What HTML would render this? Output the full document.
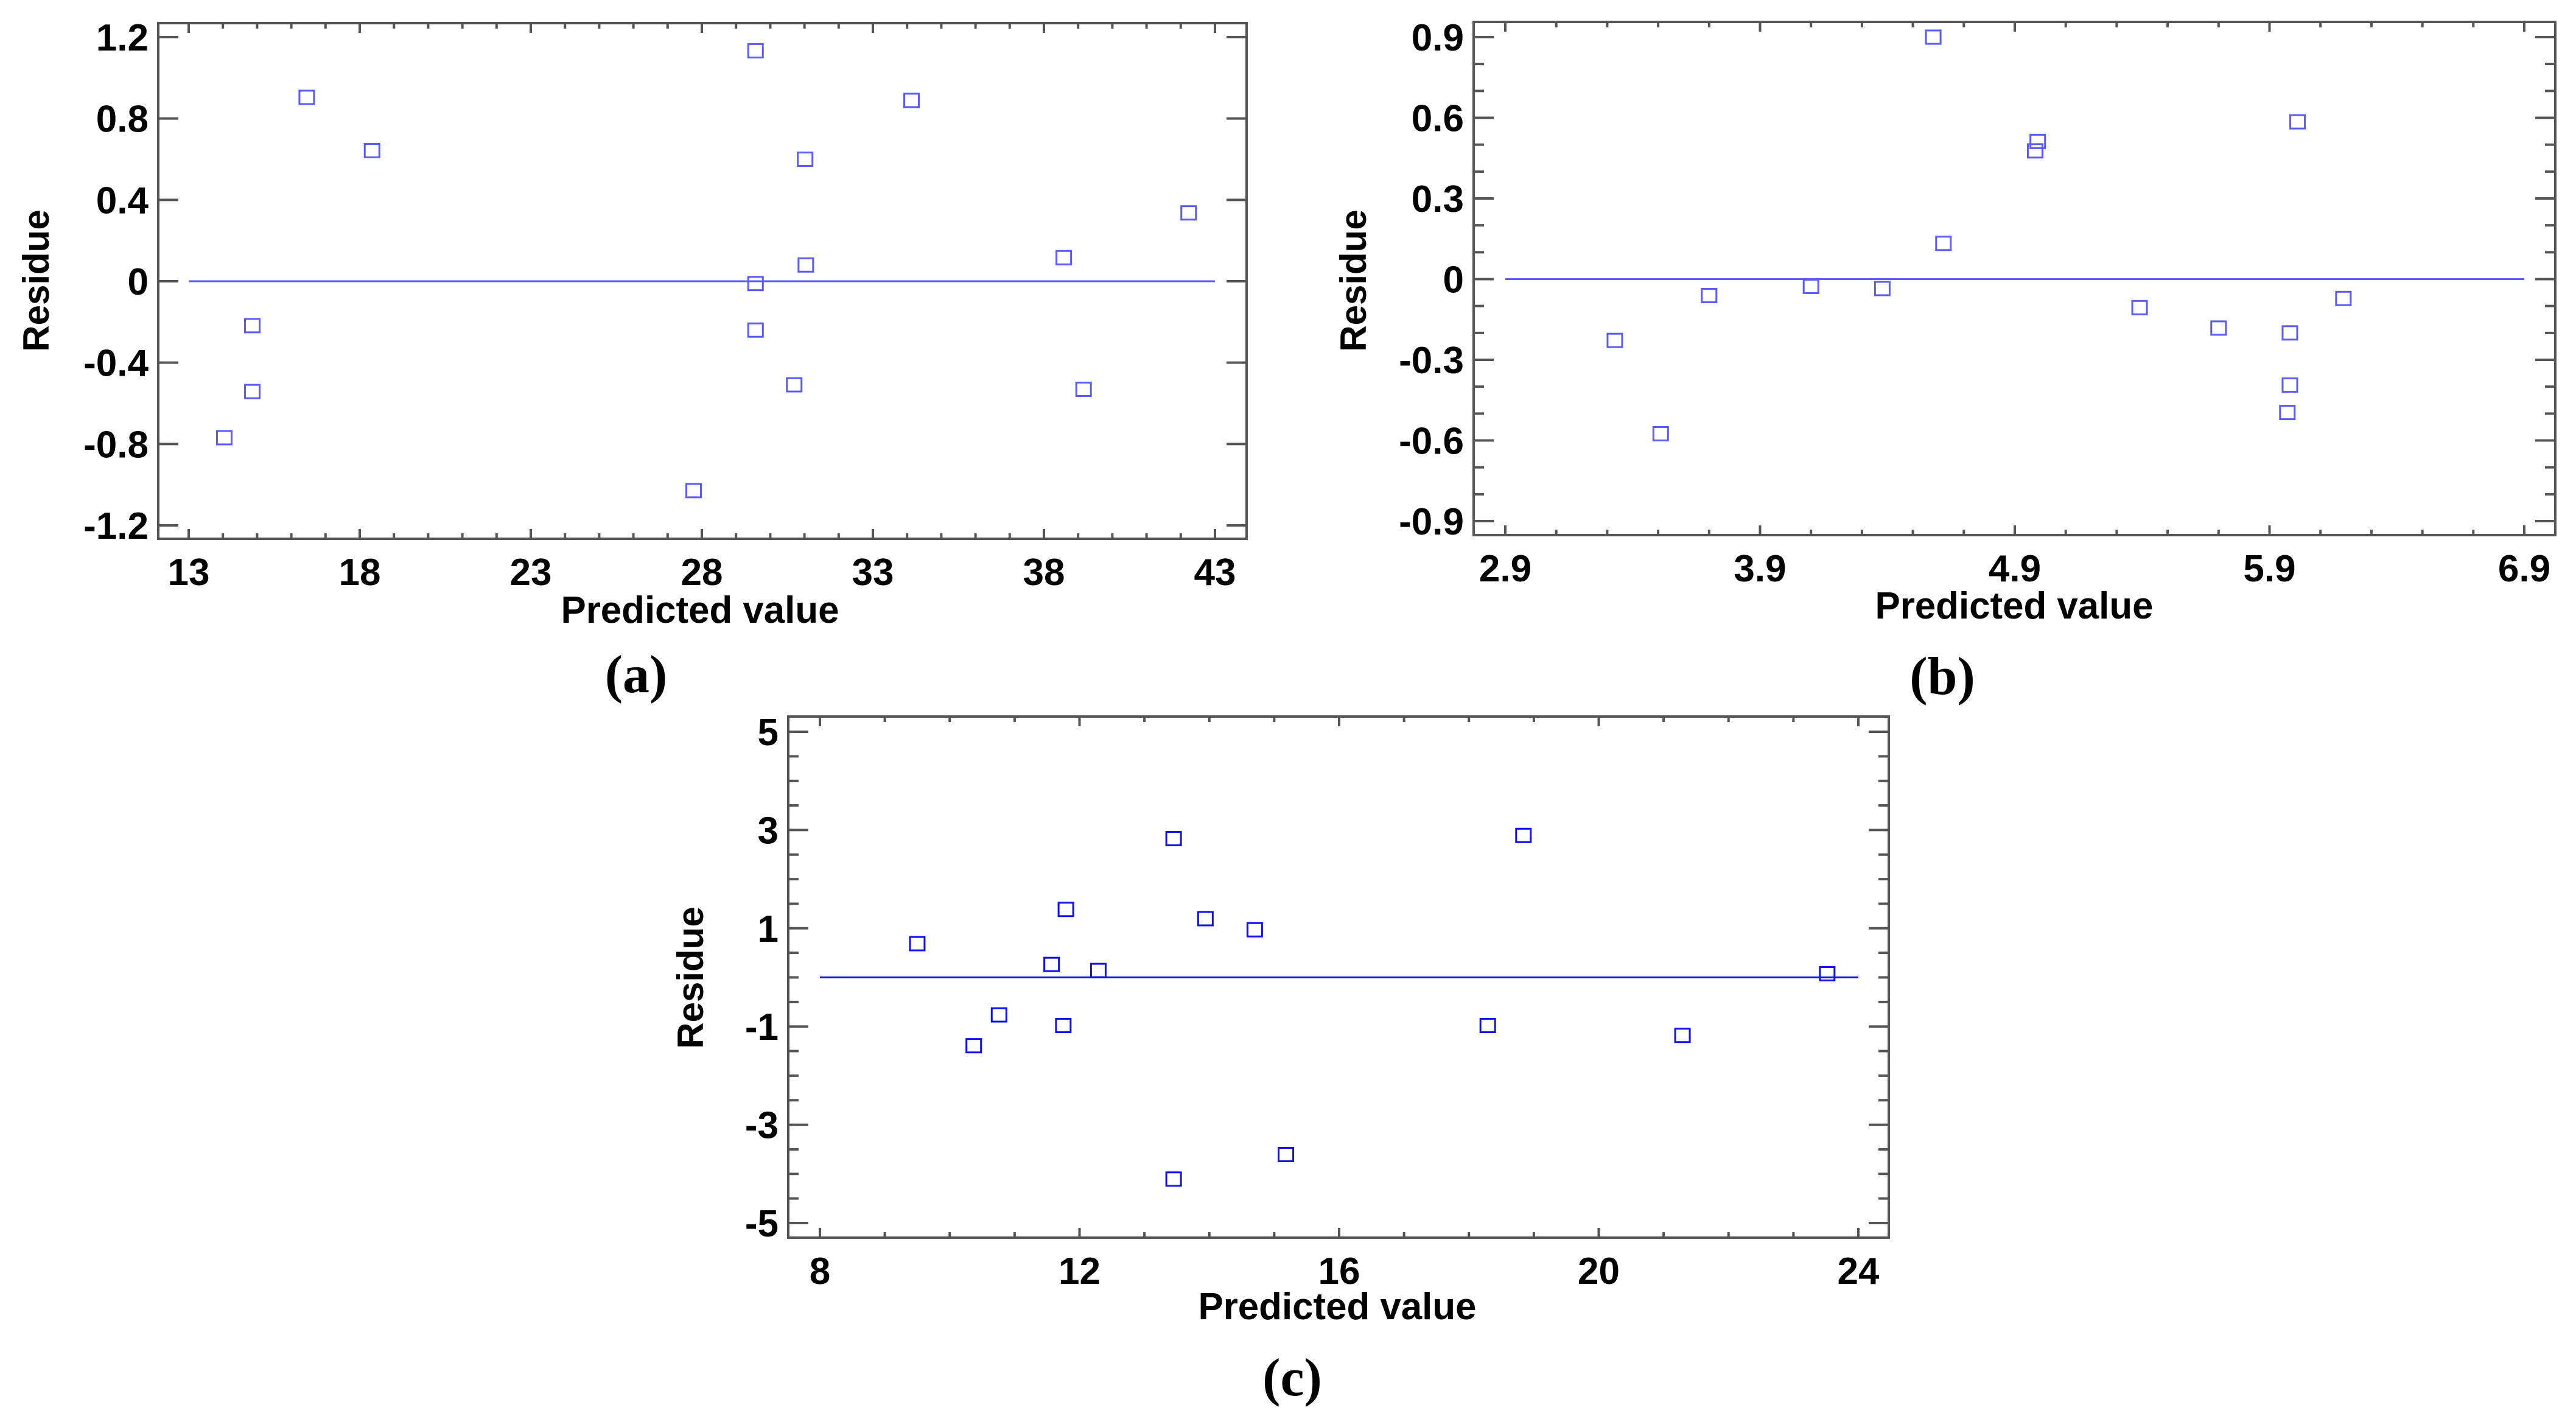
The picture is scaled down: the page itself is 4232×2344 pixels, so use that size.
<!DOCTYPE html>
<html><head><meta charset="utf-8"><style>
html,body{margin:0;padding:0;background:#fff;}
svg{display:block;}
text{font-family:"Liberation Sans",Arial,sans-serif;font-weight:bold;fill:#000;}
.cap{font-family:"Liberation Serif",serif;font-weight:bold;}
</style></head><body>
<svg id="fig" width="4232" height="2344" viewBox="0 0 4232 2344" xmlns="http://www.w3.org/2000/svg"></svg>
<script>
// Panel (a)
const aPredicted = [16.45,18.36,14.86,14.86,14.04,29.57,29.57,29.57,31.02,31.04,30.7,27.76,34.13,38.58,39.16,42.23];
const aResidue   = [0.904,0.642,-0.218,-0.542,-0.769,1.133,-0.011,-0.24,0.6,0.08,-0.509,-1.029,0.889,0.116,-0.531,0.336];
const aXTicks = ["13","18","23","28","33","38","43"];
const aYTicks = ["1.2","0.8","0.4","0","-0.4","-0.8","-1.2"];
// Panel (b)
const bPredicted = [3.33,3.51,3.70,4.10,4.38,4.58,4.62,4.98,4.99,5.39,5.70,5.98,5.98,5.97,6.01,6.19];
const bResidue   = [-0.228,-0.575,-0.061,-0.027,-0.035,0.9,0.133,0.477,0.512,-0.106,-0.182,-0.2,-0.394,-0.496,0.585,-0.072];
const bXTicks = ["2.9","3.9","4.9","5.9","6.9"];
const bYTicks = ["0.9","0.6","0.3","0","-0.3","-0.6","-0.9"];
// Panel (c)
const cPredicted = [9.50,10.37,10.76,11.57,11.79,11.75,12.29,13.45,13.45,13.94,14.70,15.18,18.29,18.84,21.29,23.52];
const cResidue   = [0.687,-1.39,-0.763,0.264,1.384,-0.979,0.141,2.825,-4.105,1.196,0.97,-3.606,-0.979,2.89,-1.18,0.075];
const cXTicks = ["8","12","16","20","24"];
const cYTicks = ["5","3","1","-1","-3","-5"];

const NS="http://www.w3.org/2000/svg";
const svg=document.getElementById('fig');
function mk(tag,attrs,parent){const e=document.createElementNS(NS,tag);for(const k in attrs)e.setAttribute(k,attrs[k]);(parent||svg).appendChild(e);return e;}

function panel(o){
  const g=mk('g',{});
  
  
  const xs=v=>o.px0+(v-o.x0)/(o.x1-o.x0)*(o.px1-o.px0);
  const ys=v=>o.py0+(v-o.y0)/(o.y1-o.y0)*(o.py1-o.py0);
  const fr=mk('rect',{x:o.L,y:o.T,width:o.R-o.L,height:o.B-o.T,fill:'none',stroke:'#555',"stroke-width":4},g);
  
  
  const nx=Math.round((o.x1-o.x0)/o.xminor);
  for(let i=0;i<=nx;i++){
    const v=o.x0+i*o.xminor, x=xs(v), major=(i%o.xmajEvery===0), len=major?16:9;
    mk('line',{x1:x,y1:o.B,x2:x,y2:o.B-len,stroke:'#555',"stroke-width":4},g);
    mk('line',{x1:x,y1:o.T,x2:x,y2:o.T+len,stroke:'#555',"stroke-width":4},g);
  }
  o.xt.forEach((t,i)=>{
    const v=o.x0+i*o.xminor*o.xmajEvery;
    const tx=mk('text',{x:xs(v),y:o.B+76,"font-size":62,"text-anchor":"middle"},g);
    tx.textContent=t;
    
    
  });
  const ny=Math.round((o.y0-o.y1)/o.yminor);
  for(let i=0;i<=ny;i++){
    const v=o.y0-i*o.yminor, y=ys(v), major=(i%o.ymajEvery===0), len=major?33:17;
    mk('line',{x1:o.L,y1:y,x2:o.L+len,y2:y,stroke:'#555',"stroke-width":4},g);
    mk('line',{x1:o.R,y1:y,x2:o.R-len,y2:y,stroke:'#555',"stroke-width":4},g);
  }
  o.yt.forEach((t,i)=>{
    const v=o.y0-i*o.yminor*o.ymajEvery;
    const tx=mk('text',{x:o.L-16,y:ys(v)+22,"font-size":62,"text-anchor":"end"},g);
    tx.textContent=t;
    
    
  });
  const zl=mk('line',{x1:o.px0,y1:ys(0),x2:o.px1,y2:ys(0),stroke:o.col,"stroke-width":3},g);
  
  
  o.xs.forEach((xv,i)=>{
    const p=mk('rect',{x:xs(xv)-12,y:ys(o.ys[i])-11,width:24,height:22,fill:'none',stroke:o.col,"stroke-width":3},g);
    
    
  });
  const xl=mk('text',{x:o.xlx,y:o.xly,"font-size":62,"text-anchor":"middle",textLength:o.xlw,lengthAdjust:"spacingAndGlyphs"},g);
  xl.textContent='Predicted value';
  
  
  const yl=mk('text',{x:0,y:0,"font-size":60,"text-anchor":"middle",transform:`translate(${o.ylx},${o.yly}) rotate(-90)`},g);
  yl.textContent='Residue';
  
  
  const cp=mk('text',{x:o.cx,y:o.cy,"font-size":88,"text-anchor":"middle","class":"cap"},g);
  cp.textContent='('+o.id+')';
  
  
}

panel({id:'a',L:260,R:2048,T:38,B:885,x0:13,x1:43,px0:310,px1:1996,y0:1.2,y1:-1.2,py0:61,py1:863,
  xminor:1,xmajEvery:5,yminor:0.4,ymajEvery:1,xt:aXTicks,yt:aYTicks,xs:aPredicted,ys:aResidue,col:'#5a5aff',
  xlx:1150,xly:1023,xlw:457,ylx:80,yly:461,cx:1045,cy:1137});
panel({id:'b',L:2421,R:4198,T:36,B:879,x0:2.9,x1:6.9,px0:2473,px1:4147,y0:0.9,y1:-0.9,py0:61,py1:856,
  xminor:0.2,xmajEvery:5,yminor:0.1,ymajEvery:3,xt:bXTicks,yt:bYTicks,xs:bPredicted,ys:bResidue,col:'#5a5aff',
  xlx:3309,xly:1016,xlw:457,ylx:2244,yly:461,cx:3191,cy:1140});
panel({id:'c',L:1295,R:3103,T:1177,B:2033,x0:8,x1:24,px0:1347,px1:3053,y0:5,y1:-5,py0:1202,py1:2009,
  xminor:1,xmajEvery:4,yminor:0.5,ymajEvery:4,xt:cXTicks,yt:cYTicks,xs:cPredicted,ys:cResidue,col:'#1010ee',
  xlx:2197,xly:2167,xlw:457,ylx:1155,yly:1606,cx:2123,cy:2292});
</script>
</body></html>
